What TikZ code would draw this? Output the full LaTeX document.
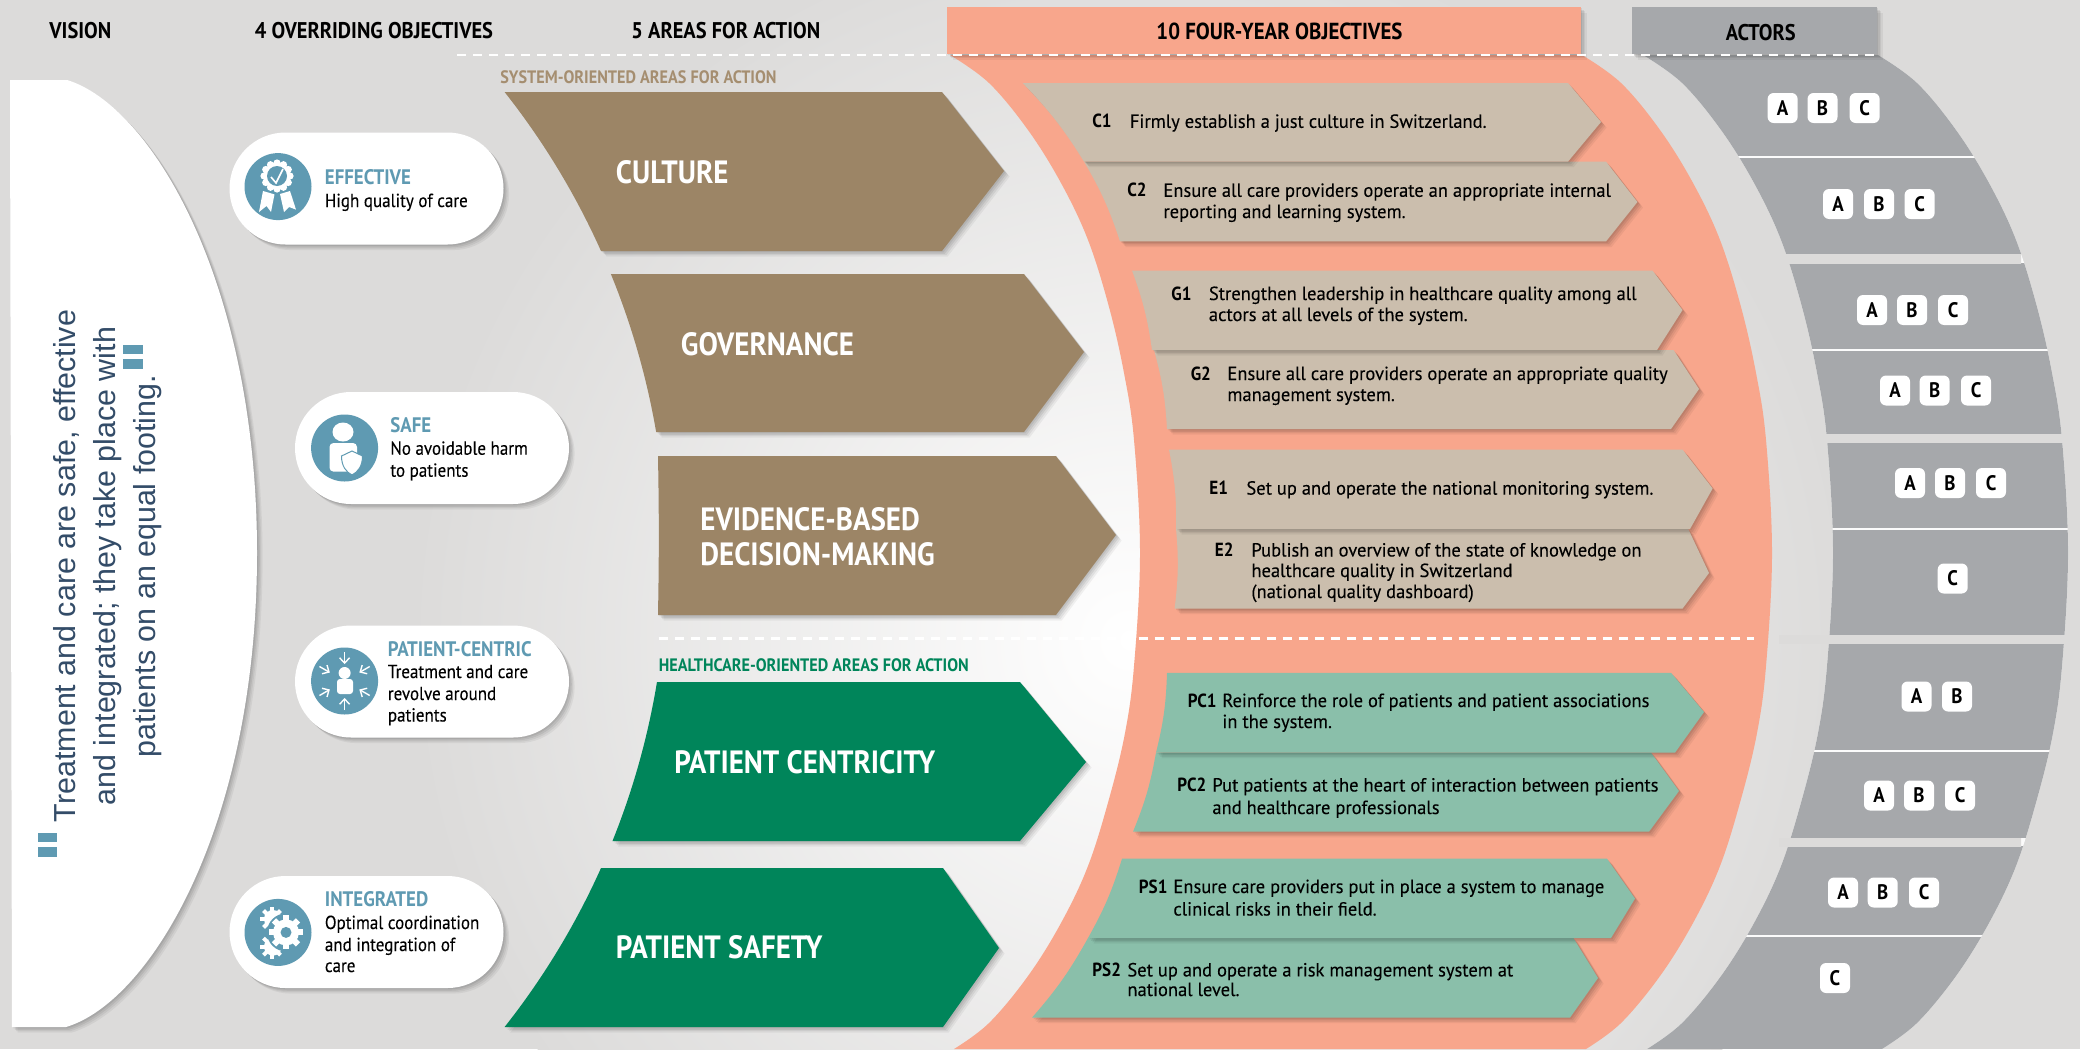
\documentclass[tikz,border=0pt]{standalone}
\usepackage{fontspec}
\usetikzlibrary{shadows,arrows.meta}
\setmainfont{Liberation Sans}
\newfontfamily\din[FakeStretch=0.9]{PT Sans}
\newfontfamily\dinm[FakeStretch=0.975,FakeBold=0.15]{PT Sans}
\newfontfamily\dinp[FakeStretch=0.9,FakeBold=0.15]{PT Sans}
\definecolor{bgc}{HTML}{DCDBDA}
\definecolor{salmon}{HTML}{F8A68C}
\definecolor{brownc}{HTML}{9C8566}
\definecolor{greenc}{HTML}{00855A}
\definecolor{tanc}{HTML}{CBBEAD}
\definecolor{mintc}{HTML}{8ABFAA}
\definecolor{actorc}{HTML}{A6A8AB}
\definecolor{iconc}{HTML}{5F9AB2}
\definecolor{navyc}{HTML}{334C68}
\definecolor{sysc}{HTML}{A58E70}
\tikzset{
  softsh/.style={drop shadow={shadow xshift=.7pt,shadow yshift=-.7pt,opacity=.07,fill=black},
    drop shadow={shadow xshift=1.4pt,shadow yshift=-1.4pt,opacity=.07,fill=black},
    drop shadow={shadow xshift=2.1pt,shadow yshift=-2.1pt,opacity=.06,fill=black},
    drop shadow={shadow xshift=2.8pt,shadow yshift=-2.8pt,opacity=.05,fill=black}},
  bigbrown/.style={fill=brownc,softsh},
  biggreen/.style={fill=greenc,softsh},
  objtan/.style={fill=tanc,softsh},
  objmint/.style={fill=mintc,softsh},
  head/.style={anchor=base west,inner sep=0pt,text=black,font=\din\bfseries\fontsize{11.35}{13}\selectfont},
  sublab/.style={anchor=base west,inner sep=0pt,font=\din\bfseries\fontsize{9}{10}\selectfont},
  bigtxt/.style={anchor=base west,inner sep=0pt,text=white,font=\din\bfseries\fontsize{16.1}{18}\selectfont},
  objlab/.style={anchor=base west,inner sep=0pt,text=black,font=\din\bfseries\fontsize{9.5}{11}\selectfont},
  objtxt/.style={anchor=base west,inner sep=0pt,text=black,font=\dinm\fontsize{9.5}{11}\selectfont},
  pilltitle/.style={anchor=base west,inner sep=0pt,text=iconc,font=\din\bfseries\fontsize{10.5}{12}\selectfont},
  pilltxt/.style={anchor=base west,inner sep=0pt,text=black,font=\dinp\fontsize{9.45}{11}\selectfont},
  pill/.style={rectangle,rounded corners=28pt,fill=white,minimum width=137pt,minimum height=56pt,inner sep=0pt,softsh},
  iconbg/.style={circle,fill=iconc,minimum size=33.5pt,inner sep=0pt},
  badge/.style={rectangle,rounded corners=3pt,fill=white,minimum size=15pt,inner sep=0pt,text=black,font=\din\bfseries\fontsize{10.5}{12}\selectfont},
  dashline/.style={white,line width=1.2pt,dash pattern=on 4.5pt off 3.5pt},
  quotebar/.style={fill=iconc},
}
\newcommand{\arcplot}[4]{plot[domain=#2:#3,samples=40,variable=\t] ({#1+754*sqrt(1-((\t-#4)/754)^2)},\t)}
% the arched edge of the bands: #1 is its x where it leaves the rule at the top
\newcommand{\edgeD}[1]{-- plot[smooth,tension=.6] coordinates {({#1},55) ({#1+39},83) ({#1+78},130) ({#1+111},183) ({#1+138},240) ({#1+159},307) ({#1+174},373) ({#1+184},440) ({#1+190},553) ({#1+184},666) ({#1+175},733) ({#1+159},799) ({#1+138},866) ({#1+111},923) ({#1+78},976) ({#1+39},1023) ({#1+4},1049)}}
\newcommand{\edgeU}[1]{-- plot[smooth,tension=.6] coordinates {({#1+4},1049) ({#1+39},1023) ({#1+78},976) ({#1+111},923) ({#1+138},866) ({#1+159},799) ({#1+175},733) ({#1+184},666) ({#1+190},553) ({#1+184},440) ({#1+174},373) ({#1+159},307) ({#1+138},240) ({#1+111},183) ({#1+78},130) ({#1+39},83) ({#1},55)}}
\newcommand{\bigarrow}[6]{\path[#1] \arcplot{-87}{#2}{#3}{559.5} -- (#4,#3) -- (#5,#6) -- (#4,#2) -- cycle;}
\newcommand{\objarrow}[9]{\path[#1] (#2,#3) -- (#6,#3) -- (#7,#8) -- (#9,#5) -- (#4,#5) to[bend right=6] (#2,#3) -- cycle;}
\begin{document}
\begin{tikzpicture}[x=0.5pt,y=-0.5pt]
\useasboundingbox (0,0) rectangle (2080,1049);
\fill[bgc] (0,0) rectangle (2080,1049);
\begin{scope}
\clip (0,0) rectangle (2080,1049);
\shade[inner color=white,outer color=bgc] (1130,640) circle[radius=720];
\end{scope}

% vision
\path[fill=white,softsh] (10,80) -- (67,80) .. controls (150,105) and (257,280) .. (257,553) .. controls (257,826) and (150,1002) .. (66,1027) -- (12,1027) -- cycle;
\node[anchor=center,inner sep=0pt,rotate=90,align=center,text=navyc,font=\fontsize{15.2}{20}\selectfont] (vision) at (108,566)
  {Treatment and care are safe, effective\\and integrated; they take place with\\patients on an equal footing.};
\fill[quotebar] (38,833) rectangle (57,842);
\fill[quotebar] (38,847) rectangle (57,857);
\fill[quotebar] (123,345) rectangle (143,354);
\fill[quotebar] (123,359) rectangle (143,368.5);

% pills
\node[pill] (pillA) at (366.5,188.5) {};
\node[pill] (pillB) at (432,448) {};
\node[pill] (pillC) at (432,681.5) {};
\node[pill] (pillD) at (366.5,932) {};
\node[iconbg] (iconA) at (278,186.6) {};
\node[iconbg] (iconB) at (344.6,448) {};
\node[iconbg] (iconC) at (344.6,681) {};
\node[iconbg] (iconD) at (278,932.4) {};

% rosette
\begin{scope}[shift={(277,176)}]
\foreach \a in {0,30,...,330} \fill[white] (\a:13) circle[radius=3.6];
\fill[white] (0,0) circle[radius=13.5];
\fill[iconc] (0,0) circle[radius=10];
\draw[white,line width=.8pt] (-6,1) -- (-1,7) -- (6,-7);
\end{scope}
\fill[white] (263,191) -- (274.5,194.4) -- (271,212) -- (266.5,206) -- (259,212) -- cycle;
\fill[white] (280,194) -- (290,191) -- (296,209.6) -- (289,207) -- (284,212) -- cycle;
% person + shield
\fill[white] (343,432) ellipse[x radius=10.5,y radius=9.5];
\fill[white,rounded corners=2pt] (329.5,443) rectangle (357,471.6);
\filldraw[fill=white,draw=iconc,line width=.5pt] (341.5,456) -- (352,451) -- (362.5,456) .. controls (362.5,466) and (358,472) .. (352,475) .. controls (346,472) and (341.5,466) .. (341.5,456) -- cycle;
% patient arrows
\fill[white] (344.6,673) circle[radius=6];
\fill[white,rounded corners=1.5pt] (337,679) rectangle (353,694);
\begin{scope}[shift={(344.6,681)}]
\foreach \a in {90,270,30,150,210,330}
  \draw[white,line width=.7pt,-{Straight Barb[length=2.6pt,width=5pt]}] (\a:29) -- (\a:17);
\end{scope}
% gears
\fill[white] (273,919) circle[radius=9];
\fill[white] (273,946.6) circle[radius=9];
\foreach \gy in {919,946.6} \foreach \a in {0,45,...,315}
  \fill[white,shift={(272,\gy)},rotate=\a] (-2,-12) rectangle (2,-6);
\fill[iconc] (286,932.4) circle[radius=19];
\begin{scope}[shift={(286,932.4)}]
\foreach \a in {0,45,...,315} \fill[white,rotate=\a] (-3,-17) rectangle (3,-8);
\fill[white] (0,0) circle[radius=13];
\fill[iconc] (0,0) circle[radius=5.5];
\end{scope}

\node[pilltitle] (tA) at (324.5,184) {EFFECTIVE};
\node[pilltxt] (tA1) at (324.5,207) {High quality of care};
\node[pilltitle] (tB) at (390,432.7) {SAFE};
\node[pilltxt] (tB1) at (390,454.7) {No avoidable harm};
\node[pilltxt] (tB2) at (390,476.7) {to patients};
\node[pilltitle] (tC) at (387.5,656) {PATIENT-CENTRIC};
\node[pilltxt] (tC1) at (387.5,678) {Treatment and care};
\node[pilltxt] (tC2) at (387.5,700) {revolve around};
\node[pilltxt] (tC3) at (387.5,721.5) {patients};
\node[pilltitle] (tD) at (324.5,906.4) {INTEGRATED};
\node[pilltxt] (tD1) at (324.5,929) {Optimal coordination};
\node[pilltxt] (tD2) at (324.5,951) {and integration of};
\node[pilltxt] (tD3) at (324.5,972) {care};

% salmon and actor bands
\fill[salmon] (950,55) \edgeD{950} \edgeU{1582} -- cycle;
\begin{scope}
\clip (1643,55) \edgeD{1643} \edgeU{1878} -- cycle;
\fill[white!90!bgc] (1600,54) rectangle (2080,1049);
\foreach \ya/\yb in {54/156,158/254,263/349,351/434,442/528,530/635,644/750,752/838,846/935,937/1049}
  \fill[actorc] (1600,\ya) rectangle (2090,\yb);
\end{scope}
\shade[left color=bgc,middle color=white,right color=bgc] (1773,254) rectangle (2021,263);
\shade[left color=bgc,middle color=white,right color=bgc] (1824,434) rectangle (2065,442);
\shade[left color=bgc,middle color=white,right color=bgc] (1779,635) rectangle (2065,643);
\shade[left color=bgc,middle color=white,right color=bgc] (1779,838) rectangle (2021,846);
\path[fill=salmon,softsh] (947,7) rectangle (1581,54);
\path[fill=actorc,softsh] (1632,7) rectangle (1877,54);

% big arrows
\bigarrow{bigbrown}{92}{251}{942}{1004}{171}
\bigarrow{bigbrown}{274}{432}{1024}{1084}{352}
\path[bigbrown] (658,456) -- (1056,456) -- (1116,535) -- (1056,615) -- (658,615) to[bend right=1] (658,456) -- cycle;
\bigarrow{biggreen}{682}{841}{1020}{1086}{762}
\bigarrow{biggreen}{868}{1027}{943}{999}{948}

% objective arrows (lower ones first: each casts its shadow on the next)
\objarrow{objtan}{1084}{161.6}{1120}{241.4}{1606}{1637.4}{202}{1606}
\objarrow{objtan}{1022.6}{83}{1084}{161.6}{1568}{1601}{122}{1568}
\objarrow{objtan}{1154}{350}{1167}{429}{1673.5}{1699}{389}{1671}
\objarrow{objtan}{1132}{270.5}{1152}{350}{1652.4}{1682.5}{310}{1657}
\objarrow{objtan}{1176}{528.5}{1174.6}{608.6}{1688}{1709}{573}{1682.5}
\objarrow{objtan}{1169}{449.6}{1176}{529}{1682.5}{1712.6}{488.5}{1690}
\objarrow{objmint}{1156}{752.6}{1133}{831.7}{1651}{1679}{791}{1649}
\objarrow{objmint}{1167}{672.8}{1156}{752.6}{1671}{1704}{712}{1675}
\objarrow{objmint}{1088}{938}{1032}{1017.6}{1573.4}{1598}{978}{1570}
\objarrow{objmint}{1122}{858.7}{1088}{938}{1607}{1635}{898.6}{1611}

% dashed rules
\coordinate (dt1) at (457,55);
\coordinate (dt2) at (1876,55);
\coordinate (dm1) at (658.5,638.3);
\coordinate (dm2) at (1754,638.3);
\draw[dashline] (dt1) -- (dt2);
\draw[dashline] (dm1) -- (dm2);

% headers
\node[head] (h1) at (49,38) {VISION};
\node[head] (h2) at (254.5,38) {4 OVERRIDING OBJECTIVES};
\node[head] (h3) at (631,38) {5 AREAS FOR ACTION};
\node[head,font=\din\bfseries\fontsize{11.6}{13}\selectfont] (h4) at (1156,39.5) {10 FOUR-YEAR OBJECTIVES};
\node[head] (h5) at (1725.4,40.5) {ACTORS};
\node[sublab,text=sysc] (s1) at (500,83) {SYSTEM-ORIENTED AREAS FOR ACTION};
\node[sublab,text=greenc] (s2) at (658.5,671) {HEALTHCARE-ORIENTED AREAS FOR ACTION};

\node[bigtxt] (b1) at (615.5,183) {CULTURE};
\node[bigtxt] (b2) at (680.5,355.5) {GOVERNANCE};
\node[bigtxt] (b3) at (700,530.6) {EVIDENCE-BASED};
\node[bigtxt] (b3b) at (700,565) {DECISION-MAKING};
\node[bigtxt] (b4) at (674,773) {PATIENT CENTRICITY};
\node[bigtxt] (b5) at (615.5,958) {PATIENT SAFETY};

\node[objlab] (c1l) at (1092,127.8) {C1};
\node[objtxt] (c1a) at (1129.5,127.8) {Firmly establish a just culture in Switzerland.};
\node[objlab] (c2l) at (1127,196.8) {C2};
\node[objtxt] (c2a) at (1163,196.8) {Ensure all care providers operate an appropriate internal};
\node[objtxt] (c2b) at (1163,218) {reporting and learning system.};
\node[objlab] (g1l) at (1171,300) {G1};
\node[objtxt] (g1a) at (1208.5,300) {Strengthen leadership in healthcare quality among all};
\node[objtxt] (g1b) at (1208.5,321) {actors at all levels of the system.};
\node[objlab] (g2l) at (1190.4,380) {G2};
\node[objtxt] (g2a) at (1227,380) {Ensure all care providers operate an appropriate quality};
\node[objtxt] (g2b) at (1227,401) {management system.};
\node[objlab] (e1l) at (1209,494.6) {E1};
\node[objtxt] (e1a) at (1246,494.6) {Set up and operate the national monitoring system.};
\node[objlab] (e2l) at (1214.5,556.5) {E2};
\node[objtxt] (e2a) at (1251,556.5) {Publish an overview of the state of knowledge on};
\node[objtxt] (e2b) at (1251,577) {healthcare quality in Switzerland};
\node[objtxt] (e2c) at (1251,598) {(national quality dashboard)};
\node[objlab] (p1l) at (1187.4,707) {PC1};
\node[objtxt] (p1a) at (1222,707) {Reinforce the role of patients and patient associations};
\node[objtxt] (p1b) at (1222,728) {in the system.};
\node[objlab] (p2l) at (1177,791.5) {PC2};
\node[objtxt] (p2a) at (1212,791.5) {Put patients at the heart of interaction between patients};
\node[objtxt] (p2b) at (1212,814) {and healthcare professionals};
\node[objlab] (s1l) at (1138.5,893) {PS1};
\node[objtxt] (s1a) at (1173,893) {Ensure care providers put in place a system to manage};
\node[objtxt] (s1b) at (1173,915.5) {clinical risks in their field.};
\node[objlab] (s2l) at (1092,976.4) {PS2};
\node[objtxt] (s2a) at (1127,976.4) {Set up and operate a risk management system at};
\node[objtxt] (s2b) at (1127,996) {national level.};

% actors
\foreach \n/\ax/\bx/\cx/\yy in {1/1782.6/1822.5/1864.6/108,2/1838/1879/1919.6/204,3/1872/1912/1953/310,4/1895/1934.6/1976/390.5,5/1910/1950/1991/483,8/1879/1919/1960/795.5,9/1843/1882.7/1924/892.5}{
  \node[badge] (a\n) at (\ax,\yy) {A};
  \node[badge] (b\n) at (\bx,\yy) {B};
  \node[badge] (c\n) at (\cx,\yy) {C};
}
\node[badge] (c6) at (1952.7,578.5) {C};
\node[badge] (a7) at (1916.5,696.5) {A};
\node[badge] (b7) at (1957,696.5) {B};
\node[badge] (c10) at (1835,978) {C};
\end{tikzpicture}
\end{document}
